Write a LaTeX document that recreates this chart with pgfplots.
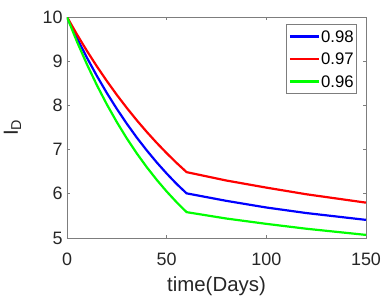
\documentclass[border=0pt]{standalone}
\usepackage{fontspec}
\setmainfont{Liberation Sans}
\usepackage{pgfplots}
\pgfplotsset{compat=1.18}
\definecolor{axgray}{RGB}{125,125,125}
\definecolor{txt}{RGB}{38,38,38}
\begin{document}
\begin{tikzpicture}
\path[use as bounding box] (-67bp,-60bp) rectangle (323bp,238bp);
\begin{axis}[
  scale only axis, width=299bp, height=221bp,
  xmin=0, xmax=150, ymin=5, ymax=10,
  xtick={0,50,100,150}, ytick={5,6,7,8,9,10},
  axis line style={axgray, line width=0.8bp},
  tick style={axgray, line width=0.8bp},
  major tick length=3bp,
  tick label style={font=\fontsize{18}{20}\selectfont, text=txt},
  /pgf/number format/assume math mode=true,
  xticklabel style={inner sep=0pt, anchor=north}, xticklabel shift=15bp,
  yticklabel style={inner sep=0pt, anchor=east}, yticklabel shift=4.3bp,
  xlabel={time(Days)},
  xlabel style={font=\fontsize{20.5}{22}\selectfont, text=txt, at={(axis description cs:0.5,-0.243)}, anchor=base},
  ylabel={I\textsubscript{D}},
  ylabel style={font=\fontsize{20.5}{22}\selectfont, text=txt, at={(axis description cs:-0.1639,0.5)}, anchor=base},
  legend style={at={(rel axis cs:0.970,0.968)}, anchor=north east, draw=axgray, line width=0.8bp,
    font=\fontsize{16.8}{18}\selectfont, text=black, inner xsep=2bp, inner ysep=0.75bp, row sep=0pt,
    nodes={inner xsep=1bp, inner ysep=0pt, text height=17.25bp, text depth=5.25bp}},
  legend cell align=left,
  legend image code/.code={\draw[#1] (0bp,0bp) -- (29bp,0bp);},
]
\addplot[blue, line width=2.2bp] coordinates {(0,10)(5,9.524)(10,9.079)(15,8.666)(20,8.280)(25,7.921)(30,7.586)(35,7.273)(40,6.983)(45,6.711)(50,6.459)(55,6.223)(60,6.01)(80,5.84)(100,5.69)(120,5.565)(150,5.41)};
\addlegendentry{0.98}
\addplot[red, line width=2.2bp] coordinates {(0,10)(5,9.606)(10,9.233)(15,8.882)(20,8.551)(25,8.238)(30,7.943)(35,7.664)(40,7.401)(45,7.153)(50,6.919)(55,6.698)(60,6.49)(80,6.30)(100,6.14)(120,5.99)(150,5.80)};
\addlegendentry{0.97}
\addplot[green, line width=2.2bp] coordinates {(0,10)(5,9.442)(10,8.929)(15,8.457)(20,8.022)(25,7.622)(30,7.254)(35,6.915)(40,6.604)(45,6.317)(50,6.052)(55,5.809)(60,5.585)(80,5.44)(100,5.32)(120,5.21)(150,5.07)};
\addlegendentry{0.96}
\end{axis}
\end{tikzpicture}
\end{document}
